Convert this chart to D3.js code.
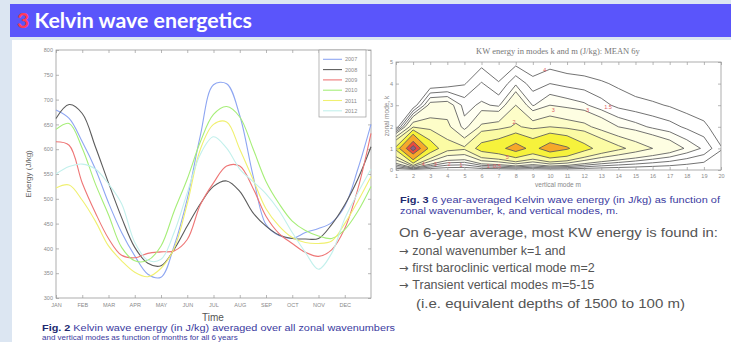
<!DOCTYPE html>
<html>
<head>
<meta charset="utf-8">
<script src="https://cdn.jsdelivr.net/npm/d3@7/dist/d3.min.js"></script>
<style>
  html, body { margin: 0; padding: 0; background: #dce6f2; }
  svg { display: block; font-family: "Liberation Sans", Arial, sans-serif; }
</style>
</head>
<body>
<svg id="slide" width="731" height="342"></svg>
<script>
// ---------- left panel: KW energy (J/kg) per year, sampled every half month from JAN
const monthLabels = ["JAN", "FEB", "MAR", "APR", "MAY", "JUN", "JUL", "AUG", "SEP", "OCT", "NOV", "DEC"];
const halfMonths = [0, 0.5, 1, 1.5, 2, 2.5, 3, 3.5, 4, 4.5, 5, 5.5, 6, 6.5, 7, 7.5, 8, 8.5, 9, 9.5, 10, 10.5, 11, 11.5, 12];
const years = ["2007", "2008", "2009", "2010", "2011", "2012"];
const e2007 = [679, 662, 615, 560, 492, 432, 385, 348, 342, 405, 500, 628, 730, 732, 668, 548, 448, 426, 420, 432, 440, 452, 485, 560, 650];
const e2008 = [662, 690, 672, 605, 532, 462, 402, 370, 365, 398, 445, 490, 525, 536, 515, 472, 445, 427, 420, 419, 420, 448, 488, 540, 605];
const e2009 = [615, 608, 532, 472, 420, 386, 381, 390, 393, 395, 418, 488, 532, 566, 566, 522, 465, 430, 410, 392, 384, 397, 440, 520, 632];
const e2010 = [640, 652, 602, 530, 468, 402, 375, 376, 405, 475, 540, 615, 670, 686, 665, 602, 535, 490, 455, 436, 425, 420, 438, 475, 525];
const e2011 = [522, 528, 497, 455, 405, 375, 352, 343, 360, 400, 490, 600, 650, 655, 600, 540, 480, 445, 422, 412, 410, 415, 450, 495, 545];
const e2012 = [550, 565, 570, 560, 530, 490, 412, 376, 378, 432, 512, 590, 625, 602, 560, 535, 510, 476, 432, 392, 358, 390, 460, 512, 560];
const yearColors = ["#8ea6f2", "#5c5c5c", "#ee7676", "#a6ee78", "#f0f070", "#c2f0ec"];
const energyTicks = [300, 350, 400, 450, 500, 550, 600, 650, 700, 750, 800];

// ---------- right panel: 6-year mean energy, rows k = 0..5, columns m = 1..20
const modesM = [1, 2, 3, 4, 5, 6, 7, 8, 9, 10, 11, 12, 13, 14, 15, 16, 17, 18, 19, 20];
const modesK = [0, 1, 2, 3, 4, 5];
const energyK0 = [0, 0, 0, 0, 0, 0, 0, 0, 0, 0, 0, 0, 0, 0, 0, 0, 0, 0, 0, 0];
const energyK1 = [6.5, 19, 7.5, 4.5, 4.2, 7, 8.0, 10.5, 8.0, 10.8, 9.4, 6.8, 5.2, 4.3, 3.6, 3.0, 2.5, 1.9, 1.4, 0.55];
const energyK2 = [0, 3.8, 3.5, 3.3, 1.7, 3.2, 3.5, 4.2, 3.6, 4.0, 3.6, 3.3, 2.6, 2.0, 1.7, 1.4, 1.2, 0.9, 0.65, 0.1];
const energyK3 = [0, 0, 2.3, 2.4, 1.3, 1.6, 1.4, 3.0, 1.45, 2.0, 1.8, 1.6, 1.2, 0.85, 0.7, 0.6, 0.45, 0.25, 0.1, 0];
const energyK4 = [0, 0, 0, 0.15, 0.45, 1.05, 0.55, 1.4, 0.75, 1.0, 0.85, 0.75, 0.58, 0.4, 0.2, 0.05, 0, 0, 0, 0];
const energyK5 = [0, 0, 0, 0, 0, 0.3, 0, 0.3, 0, 0.25, 0.1, 0.05, 0, 0, 0, 0, 0, 0, 0, 0];
const contourLevels = [0.5, 1, 1.5, 2, 3, 4, 6, 9, 14, 17];
const contourColors = ["#ffffff", "#ffffff", "#fffff3", "#fefee2", "#fdfdc8", "#fbfba4", "#f6f23c", "#f6a82a", "#ec4a3c", "#8c5d86"];
const contourLabels = [["4", 9.7, 4.63], ["3", 10.2, 2.78], ["3", 12.2, 2.78], ["1.5", 13.4, 2.9], ["2", 7.9, 2.24],
  ["5", 7.5, 0.6], ["4", 2.6, 0.3], ["3", 3.3, 0.3], ["2", 4.1, 0.3], ["1", 4.8, 0.25], ["1", 6.4, 0.2], ["0.5", 6.9, 0.2]];

const bulletHead = "On 6-year average, most KW energy is found in:";
const bullets = [
  "zonal wavenumber k=1 and",
  "first baroclinic vertical mode m=2",
  "Transient vertical modes m=5-15"
];
const bulletTail = "(i.e. equivalent depths of 1500 to 100 m)";

const svg = d3.select("#slide");

// slide frame
svg.append("rect").attr("width", 731).attr("height", 342).attr("fill", "#dce6f2");
svg.append("rect").attr("x", 10).attr("y", 4).attr("width", 721).attr("height", 33).attr("fill", "#5a55fb");
svg.append("rect").attr("x", 12).attr("y", 40).attr("width", 719).attr("height", 302).attr("fill", "#ffffff");

const title = svg.append("text")
  .attr("x", 17).attr("y", 28)
  .attr("font-family", "Lato, 'Open Sans', sans-serif")
  .attr("font-weight", 700).attr("font-size", 21)
  .attr("textLength", 235).attr("lengthAdjust", "spacingAndGlyphs");
title.append("tspan").attr("fill", "#ff3a5c").text("3 ");
title.append("tspan").attr("fill", "#ffffff").text("Kelvin wave energetics");

// ================= left: energy vs time =================
const L = { left: 56, right: 371, top: 50, bottom: 298 };
const x = d3.scaleLinear().domain([0, 12]).range([L.left, L.right]);
const y = d3.scaleLinear().domain([300, 800]).range([L.bottom, L.top]);
const left = svg.append("g");

function styleAxis(g, showText) {
  g.select(".domain").remove();
  g.selectAll("line").attr("stroke", "#9a9a9a").attr("stroke-width", 0.7);
  g.selectAll("text").attr("fill", "#8a8a8a").attr("font-size", 5.5);
  if (!showText) g.selectAll("text").remove();
}

left.append("g").attr("transform", `translate(${L.left},0)`)
  .call(d3.axisLeft(y).tickValues(energyTicks).tickSize(-3).tickPadding(3))
  .call(g => styleAxis(g, true));
left.append("g").attr("transform", `translate(${L.right},0)`)
  .call(d3.axisRight(y).tickValues(energyTicks).tickSize(-3))
  .call(g => styleAxis(g, false));
left.append("g").attr("transform", `translate(0,${L.bottom})`)
  .call(d3.axisBottom(x).tickValues(d3.range(12)).tickFormat(i => monthLabels[i]).tickSize(-3).tickPadding(5))
  .call(g => styleAxis(g, true));
left.append("g").attr("transform", `translate(0,${L.top})`)
  .call(d3.axisTop(x).tickValues(d3.range(12)).tickSize(-3))
  .call(g => styleAxis(g, false));
left.append("rect")
  .attr("x", L.left).attr("y", L.top)
  .attr("width", L.right - L.left).attr("height", L.bottom - L.top)
  .attr("fill", "none").attr("stroke", "#9a9a9a").attr("stroke-width", 0.8);

const series = [e2007, e2008, e2009, e2010, e2011, e2012];
const line = d3.line()
  .x((d, i) => x(halfMonths[i]))
  .y(d => y(d))
  .curve(d3.curveCatmullRom.alpha(0.5));
left.selectAll(".year-line")
  .data(series)
  .enter()
  .append("path")
  .attr("class", "year-line")
  .attr("d", line)
  .attr("fill", "none")
  .attr("stroke", (d, i) => yearColors[i])
  .attr("stroke-width", 1.1);

// legend
const legend = left.append("g").attr("transform", `translate(${L.right - 52},${L.top})`);
legend.append("rect").attr("width", 47).attr("height", 67)
  .attr("fill", "#ffffff").attr("stroke", "#9a9a9a").attr("stroke-width", 0.7);
years.forEach((yr, i) => {
  const row = legend.append("g").attr("transform", `translate(0,${9.3 + i * 10.3})`);
  row.append("line").attr("x1", 4).attr("x2", 23).attr("stroke", yearColors[i]).attr("stroke-width", 1.1);
  row.append("text").attr("x", 26).attr("y", 2).attr("font-size", 5.5).attr("fill", "#8a8a8a").text(yr);
});

left.append("text")
  .attr("transform", `translate(31,${(L.top + L.bottom) / 2}) rotate(-90)`)
  .attr("text-anchor", "middle").attr("font-size", 8).attr("fill", "#666").text("Energy (J/kg)");
left.append("text")
  .attr("x", 213).attr("y", 321)
  .attr("text-anchor", "middle").attr("font-size", 10).attr("fill", "#555").text("Time");

const cap2 = svg.append("text").attr("x", 42).attr("y", 331).attr("font-size", 8.5)
  .attr("textLength", 353).attr("lengthAdjust", "spacingAndGlyphs");
cap2.append("tspan").attr("font-weight", 700).attr("fill", "#222a70").text("Fig. 2 ");
cap2.append("tspan").attr("fill", "#3a3aa0").text("Kelvin wave energy (in J/kg) averaged over all zonal wavenumbers");
svg.append("text").attr("x", 42).attr("y", 339.5).attr("font-size", 8).attr("fill", "#3a3aa0")
  .text("and vertical modes as function of months for all 6 years");

// ================= right: contour of energy in (m, k) =================
const C = { left: 396, right: 721, top: 62, bottom: 170 };
const cx = d3.scaleLinear().domain([1, 20]).range([C.left, C.right]);
const cy = d3.scaleLinear().domain([0, 5]).range([C.bottom, C.top]);
const right = svg.append("g");

right.append("clipPath").attr("id", "cclip")
  .append("rect").attr("x", C.left).attr("y", C.top)
  .attr("width", C.right - C.left).attr("height", C.bottom - C.top);

const grid = [energyK0, energyK1, energyK2, energyK3, energyK4, energyK5].flat();
const bands = d3.contours()
  .size([modesM.length, modesK.length])
  .thresholds(contourLevels)(grid);
// grid sample i sits at i + 0.5 in contour space
const toPlot = d3.geoTransform({
  point: function(px, py) {
    this.stream.point(cx(modesM[0] + px - 0.5), cy(modesK[0] + py - 0.5));
  }
});
const path = d3.geoPath(toPlot);
right.append("g").attr("clip-path", "url(#cclip)")
  .selectAll("path")
  .data(bands)
  .enter()
  .append("path")
  .attr("d", path)
  .attr("fill", (d, i) => contourColors[i])
  .attr("stroke", "#5a5a5a")
  .attr("stroke-width", 0.85)
  .attr("stroke-linejoin", "round");

right.selectAll(".clabel")
  .data(contourLabels)
  .enter()
  .append("text")
  .attr("class", "clabel")
  .attr("x", d => cx(d[1])).attr("y", d => cy(d[2]) + 2)
  .attr("text-anchor", "middle").attr("font-size", 5.5).attr("fill", "#e06060")
  .text(d => d[0]);

right.append("g").attr("transform", `translate(${C.left},0)`)
  .call(d3.axisLeft(cy).tickValues(modesK).tickFormat(d3.format("d")).tickSize(-3).tickPadding(3))
  .call(g => styleAxis(g, true));
right.append("g").attr("transform", `translate(${C.right},0)`)
  .call(d3.axisRight(cy).tickValues(modesK).tickSize(-3))
  .call(g => styleAxis(g, false));
right.append("g").attr("transform", `translate(0,${C.bottom})`)
  .call(d3.axisBottom(cx).tickValues(modesM).tickFormat(d3.format("d")).tickSize(-3).tickPadding(4))
  .call(g => styleAxis(g, true));
right.append("g").attr("transform", `translate(0,${C.top})`)
  .call(d3.axisTop(cx).tickValues(modesM).tickSize(-3))
  .call(g => styleAxis(g, false));
right.append("rect")
  .attr("x", C.left).attr("y", C.top)
  .attr("width", C.right - C.left).attr("height", C.bottom - C.top)
  .attr("fill", "none").attr("stroke", "#9a9a9a").attr("stroke-width", 0.8);

right.append("text")
  .attr("x", 558).attr("y", 54).attr("text-anchor", "middle")
  .attr("font-family", "'Liberation Serif', serif").attr("font-size", 8.5).attr("fill", "#777")
  .text("KW energy in modes k and m (J/kg): MEAN 6y");
right.append("text")
  .attr("x", 558).attr("y", 187).attr("text-anchor", "middle")
  .attr("font-size", 6.5).attr("fill", "#888").text("vertical mode m");
right.append("text")
  .attr("transform", `translate(389,${(C.top + C.bottom) / 2}) rotate(-90)`)
  .attr("text-anchor", "middle").attr("font-size", 6.5).attr("fill", "#888").text("zonal mode, k");

const cap3 = svg.append("text").attr("x", 400).attr("y", 203).attr("font-size", 8.5)
  .attr("textLength", 320).attr("lengthAdjust", "spacingAndGlyphs");
cap3.append("tspan").attr("font-weight", 700).attr("fill", "#222a70").text("Fig. 3 ");
cap3.append("tspan").attr("fill", "#3a3aa0").text("6 year-averaged Kelvin wave energy (in J/kg) as function of");
svg.append("text").attr("x", 400).attr("y", 214).attr("font-size", 8.5).attr("fill", "#3a3aa0")
  .attr("textLength", 218).attr("lengthAdjust", "spacingAndGlyphs")
  .text("zonal wavenumber, k, and vertical modes, m.");

// summary text block
svg.append("text")
  .attr("x", 399).attr("y", 237)
  .attr("font-size", 13).attr("fill", "#555")
  .attr("textLength", 319).attr("lengthAdjust", "spacingAndGlyphs")
  .text(bulletHead);
const bulletRows = svg.selectAll(".bullet")
  .data(bullets)
  .enter()
  .append("text")
  .attr("class", "bullet")
  .attr("x", 399).attr("y", (d, i) => 255 + i * 17)
  .attr("font-size", 12.5).attr("fill", "#555");
bulletRows.append("tspan").attr("font-family", "'DejaVu Sans', sans-serif").attr("font-size", 11.5).text("\u2192 ");
bulletRows.append("tspan").text(d => d);
svg.append("text")
  .attr("x", 416).attr("y", 308)
  .attr("font-size", 13).attr("fill", "#555")
  .attr("textLength", 269).attr("lengthAdjust", "spacingAndGlyphs")
  .text(bulletTail);
</script>
</body>
</html>
